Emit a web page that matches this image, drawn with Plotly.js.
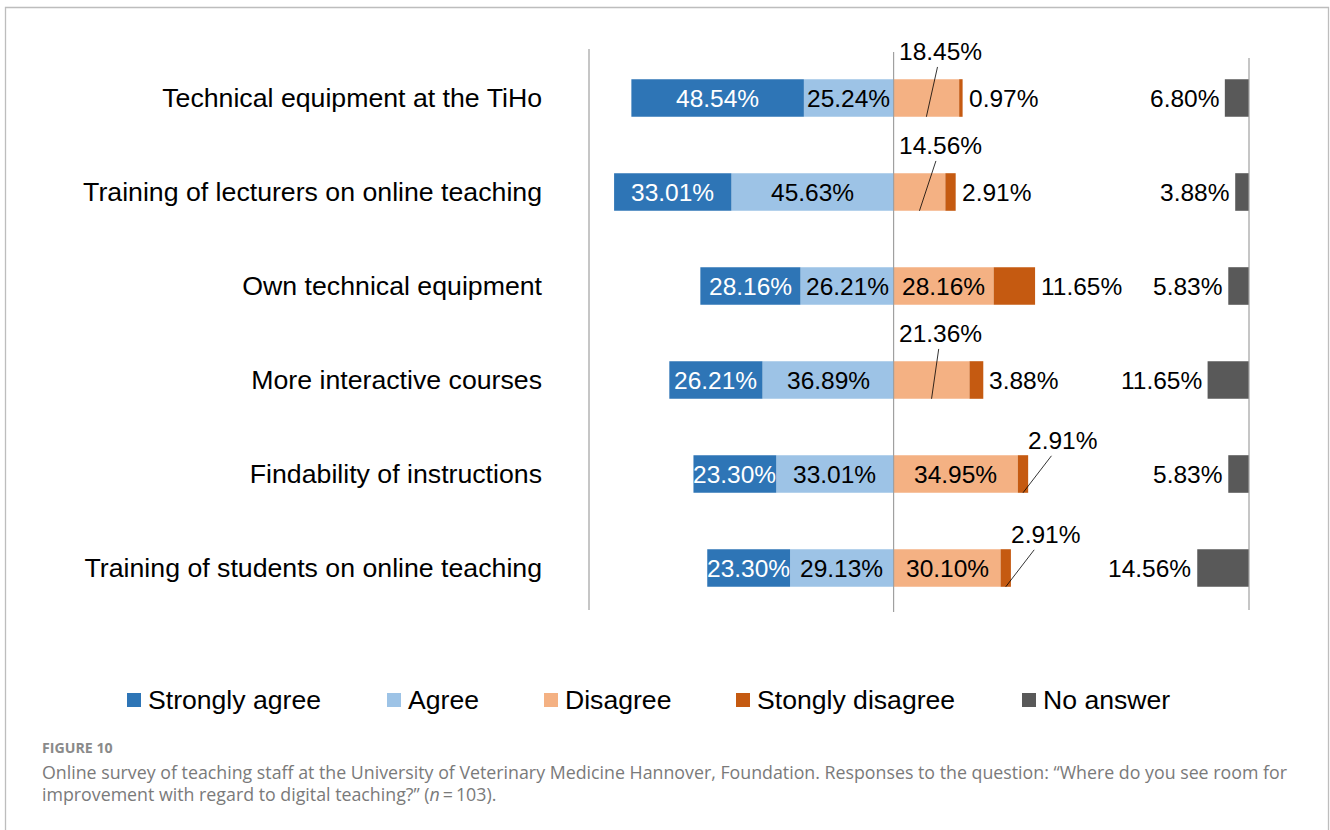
<!DOCTYPE html>
<html><head><meta charset="utf-8">
<script src="https://cdn.plot.ly/plotly-3.0.1.min.js"></script>
<style>html,body{margin:0;padding:0;background:#fff;} #chart{width:1330px;height:830px;}</style>
</head><body><div id="chart"></div>
<script>
const categories = ["Technical equipment at the TiHo","Training of lecturers on online teaching","Own technical equipment","More interactive courses","Findability of instructions","Training of students on online teaching"];
const stronglyAgree = [48.54,33.01,28.16,26.21,23.30,23.30];
const agree = [25.24,45.63,26.21,36.89,33.01,29.13];
const disagree = [18.45,14.56,28.16,21.36,34.95,30.10];
const stronglyDisagree = [0.97,2.91,11.65,3.88,2.91,2.91];
const noAnswer = [6.80,3.88,5.83,11.65,5.83,14.56];
const seriesNames = ["Strongly agree","Agree","Disagree","Stongly disagree","No answer"];
const colors = ["#2E75B6","#9DC3E6","#F4B183","#C55A11","#595959"];
const captionLabel = "FIGURE 10";
const captionLines = ["Online survey of teaching staff at the University of Veterinary Medicine Hannover, Foundation. Responses to the question: \u201cWhere do you see room for",
  "improvement with regard to digital teaching?\u201d (<i>n</i>\u2009=\u2009103)."];

const W=1330,H=830,ML=589,MR=81,MT=51,MB=215;
const PW=W-ML-MR, PH=H-MT-MB;
const px=v=>(v-ML)/PW, py=v=>(MT+PH-v)/PH;
const FONT="Liberation Sans, Arial, sans-serif";
const LS=24.5;
const fmt=v=>v.toFixed(2)+"%";

const common={type:"bar",orientation:"h",y:categories,hoverinfo:"skip",showlegend:false};
const traces=[
  Object.assign({},common,{name:seriesNames[1],x:agree.map(v=>-v),marker:{color:colors[1],line:{width:0}}}),
  Object.assign({},common,{name:seriesNames[0],x:stronglyAgree.map(v=>-v),marker:{color:colors[0],line:{width:0}}}),
  Object.assign({},common,{name:seriesNames[2],x:disagree,marker:{color:colors[2],line:{width:0}}}),
  Object.assign({},common,{name:seriesNames[3],x:stronglyDisagree,marker:{color:colors[3],line:{width:0}}}),
  Object.assign({},common,{name:seriesNames[4],x:noAnswer,base:noAnswer.map(v=>100-v),marker:{color:colors[4],line:{width:0}}})
];

const ann=[];
const lab=(o)=>Object.assign({showarrow:false,xref:"x",yref:"y",font:{family:FONT,size:LS,color:"#000"}},o);
categories.forEach((c,i)=>{
  ann.push(lab({x:-(agree[i]+stronglyAgree[i]/2),y:i,text:fmt(stronglyAgree[i]),font:{family:FONT,size:LS,color:"#fff"}}));
  ann.push(lab({x:-agree[i]/2,y:i,text:fmt(agree[i])}));
  const dIn = disagree[i]>=25;
  if(dIn){
    ann.push(lab({x:disagree[i]/2,y:i,text:fmt(disagree[i])}));
  } else {
    ann.push(lab({x:disagree[i]/2,y:i+0.2,text:fmt(disagree[i]),showarrow:true,arrowhead:0,arrowwidth:0.8,arrowcolor:"#000",standoff:0,axref:"x",ayref:"y",ax:13.3,ay:i-0.49}));
  }
  const sdEnd=disagree[i]+stronglyDisagree[i];
  if(dIn && stronglyDisagree[i]<5){
    ann.push(lab({x:disagree[i]+stronglyDisagree[i]/2,y:i+0.2,text:fmt(stronglyDisagree[i]),showarrow:true,arrowhead:0,arrowwidth:0.8,arrowcolor:"#000",standoff:0,ax:40,ay:-52}));
  } else {
    ann.push(lab({x:sdEnd,y:i,text:fmt(stronglyDisagree[i]),xanchor:"left",xshift:4}));
  }
  ann.push(lab({x:100-noAnswer[i],y:i,text:fmt(noAnswer[i]),xanchor:"right",xshift:-4}));
});

// legend (custom)
const legendX=[127,387,544,736,1022];
const shapes=[];
seriesNames.forEach((n,k)=>{
  shapes.push({type:"rect",xref:"paper",yref:"paper",x0:px(legendX[k]),x1:px(legendX[k]+14),y0:py(707),y1:py(693),fillcolor:colors[k],line:{width:0}});
  ann.push({xref:"paper",yref:"paper",x:px(legendX[k]+19),y:py(700),xanchor:"left",yanchor:"middle",showarrow:false,text:n,font:{family:FONT,size:26.6,color:"#000"}});
});
// axis lines
const lc="#A0A0A0";
shapes.push({type:"line",xref:"paper",yref:"paper",x0:0,x1:0,y0:py(610),y1:py(49),line:{color:lc,width:1.2}});
shapes.push({type:"line",xref:"x",yref:"paper",x0:0,x1:0,y0:py(612),y1:py(52),line:{color:lc,width:1.2}});
shapes.push({type:"line",xref:"paper",yref:"paper",x0:1,x1:1,y0:py(610),y1:py(58),line:{color:lc,width:1.2}});
// border
shapes.push({type:"rect",xref:"paper",yref:"paper",x0:px(5.5),x1:px(1328.5),y0:py(845),y1:py(7.5),line:{color:"#BDBDBD",width:1.3},fillcolor:"rgba(0,0,0,0)"});
// caption
const CF="Open Sans, Noto Sans, sans-serif";
ann.push({xref:"paper",yref:"paper",x:px(40),y:py(747),xanchor:"left",yanchor:"middle",showarrow:false,text:"<b>"+captionLabel+"</b>",font:{family:CF,size:14.2,color:"#8a8a8a"}});
ann.push({xref:"paper",yref:"paper",x:px(40),y:py(772),xanchor:"left",yanchor:"middle",showarrow:false,text:captionLines[0],font:{family:CF,size:17.8,color:"#7a7a7a"}});
ann.push({xref:"paper",yref:"paper",x:px(40),y:py(794),xanchor:"left",yanchor:"middle",showarrow:false,text:captionLines[1],font:{family:CF,size:17.8,color:"#7a7a7a"}});

const layout={
  width:W,height:H,margin:{l:ML,r:MR,t:MT,b:MB,pad:0},
  paper_bgcolor:"#fff",plot_bgcolor:"#fff",
  barmode:"relative",bargap:0.6,
  xaxis:{range:[-85.7,100],showgrid:false,zeroline:false,showticklabels:false,showline:false,fixedrange:true},
  yaxis:{type:"category",range:[5.5,-0.5],showgrid:false,zeroline:false,showline:false,ticks:"",ticklabelstandoff:46,tickfont:{family:FONT,size:26.7,color:"#000"},fixedrange:true},
  shapes:shapes,annotations:ann,showlegend:false,font:{family:FONT}
};
Plotly.newPlot("chart",traces,layout,{displayModeBar:false,staticPlot:true});
</script></body></html>
